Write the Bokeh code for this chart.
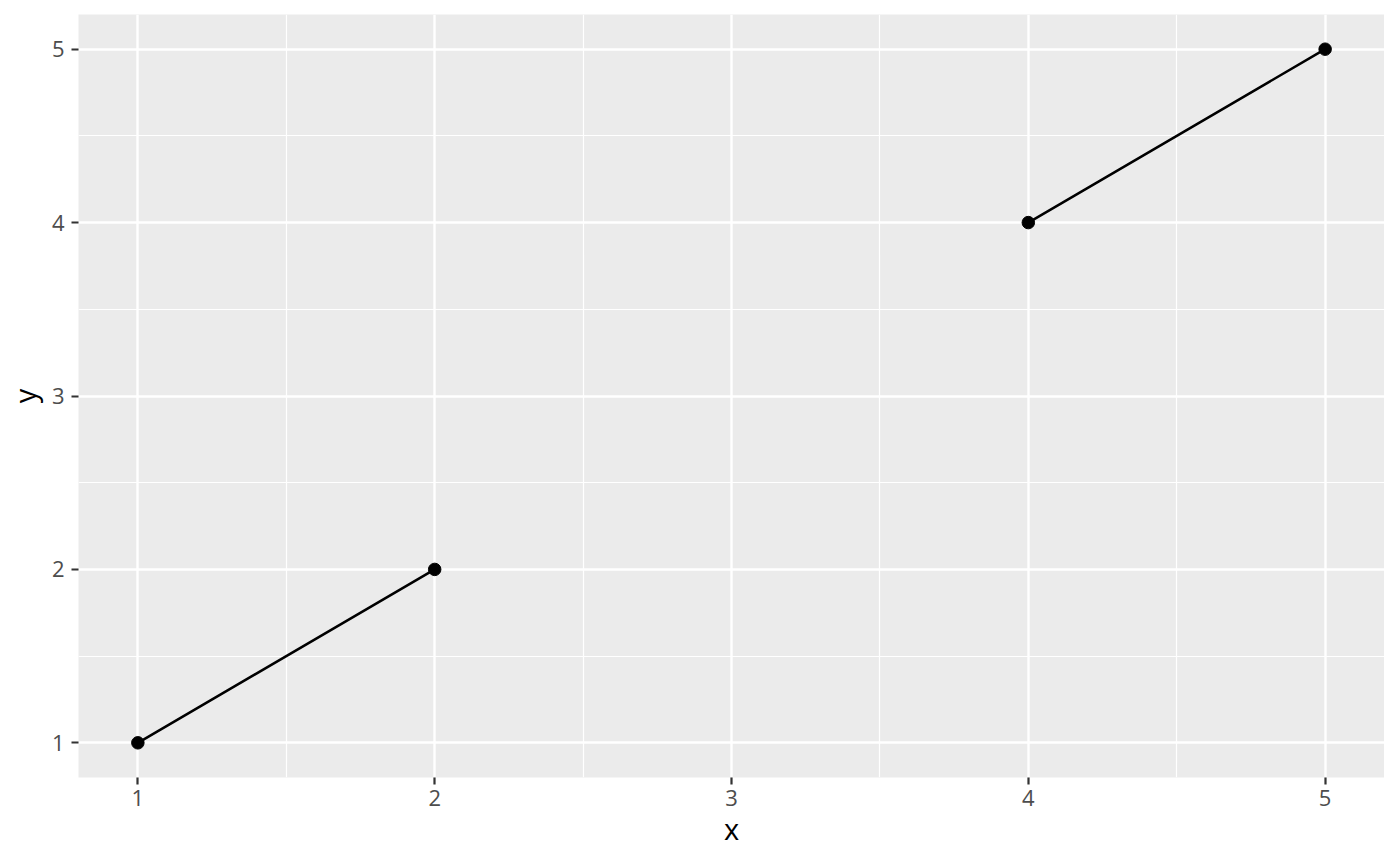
from bokeh.plotting import figure
from bokeh.models import FixedTicker, ColumnDataSource
from bokeh.embed import file_html
from bokeh.resources import INLINE
import numpy as np

x_values = [1, 2, 3, 4, 5]
y_values = [1, 2, np.nan, 4, 5]
x_ticks = [1, 2, 3, 4, 5]
y_ticks = [1, 2, 3, 4, 5]
x_label = "x"
y_label = "y"

p = figure(width=1384, height=850, output_backend="svg", toolbar_location=None,
           x_range=(0.8, 5.2), y_range=(0.8, 5.2),
           min_border_left=78, min_border_right=0, min_border_top=14, min_border_bottom=73)
p.background_fill_color = "#EBEBEB"
p.border_fill_color = "white"
p.outline_line_color = None

src = ColumnDataSource(dict(x=x_values, y=y_values))
p.line("x", "y", source=src, line_color="black", line_width=2.5)
mask = [not np.isnan(v) for v in y_values]
p.scatter([x for x, m in zip(x_values, mask) if m], [y for y, m in zip(y_values, mask) if m],
          size=12.5, color="black")

for ax, ticks in ((p.xaxis[0], x_ticks), (p.yaxis[0], y_ticks)):
    ax.ticker = FixedTicker(ticks=ticks, minor_ticks=[t + 0.5 for t in ticks] + [t - 0.5 for t in ticks])
    ax.axis_line_color = None
    ax.major_tick_line_color = "#333333"
    ax.major_tick_line_width = 2.2
    ax.major_tick_out = 7
    ax.major_tick_in = 0
    ax.minor_tick_line_color = None
    ax.major_label_text_font = "Open Sans"
    ax.major_label_text_font_size = "22px"
    ax.major_label_text_color = "#4D4D4D"
    ax.axis_label_text_font = "Open Sans"
    ax.axis_label_text_font_size = "29px"
    ax.axis_label_text_font_style = "normal"
    ax.axis_label_text_color = "black"

p.xaxis.axis_label = x_label
p.yaxis.axis_label = y_label
p.xaxis.major_label_standoff = 5
p.yaxis.major_label_standoff = 7
p.xaxis.axis_label_standoff = 0
p.yaxis.axis_label_standoff = 5

for g in (p.xgrid[0], p.ygrid[0]):
    g.grid_line_color = "white"
    g.grid_line_width = 2.4
    g.minor_grid_line_color = "white"
    g.minor_grid_line_width = 1.2

open("out.html", "w").write(file_html(p, INLINE))
